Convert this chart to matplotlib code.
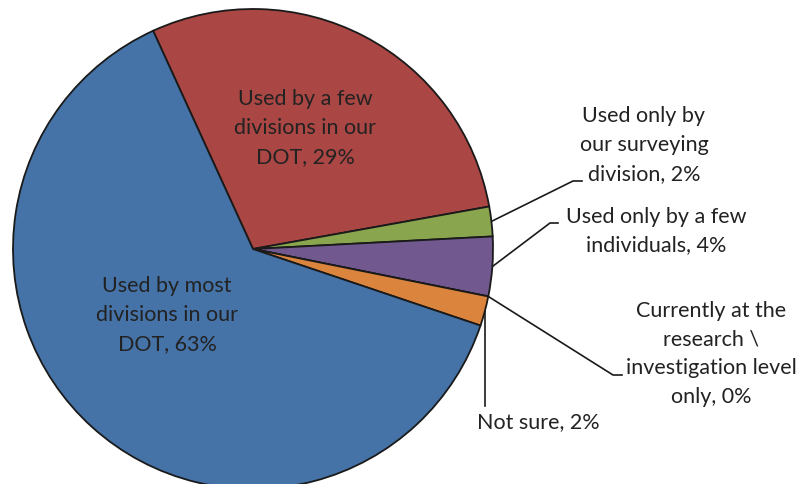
import numpy as np
import matplotlib
matplotlib.use("Agg")
import matplotlib.pyplot as plt

W, H = 800, 484

labels = [
    "Used by a few\ndivisions in our\nDOT, 29%",
    "Used only by\nour surveying\ndivision, 2%",
    "Used only by a few\nindividuals, 4%",
    "Currently at the\nresearch \\\ninvestigation level\nonly, 0%",
    "Not sure, 2%",
    "Used by most\ndivisions in our\nDOT, 63%",
]
values = [29, 2, 4, 0, 2, 63]
colors = ["#AA4643", "#89A54E", "#71588F", "#DB843D", "#DB843D", "#4573A7"]

plt.rcParams["font.family"] = ["Lato", "DejaVu Sans"]
TEXT_COLOR = "#222222"
FS = 15.5
LS = 1.55

fig = plt.figure(figsize=(W / 100, H / 100), dpi=100)
ax = fig.add_axes([0, 0, 1, 1])

cx, cy, r = 253, H - 249, 240
wedges, _ = ax.pie(values, colors=colors, startangle=114.6, counterclock=False,
                   center=(cx, cy), radius=r, frame=True,
                   wedgeprops=dict(edgecolor="#1a1a1a", linewidth=1.3))
ax.set_xlim(0, W)
ax.set_ylim(0, H)
ax.set_aspect("equal")
ax.axis("off")


def edge_point(w, frac=0.5):
    ang = np.deg2rad(w.theta1 + (w.theta2 - w.theta1) * frac)
    return cx + r * np.cos(ang), cy + r * np.sin(ang)


def leader(w, elbow, end, frac=0.5):
    x0, y0 = edge_point(w, frac)
    ax.plot([x0, elbow[0], end[0]], [y0, H - elbow[1], H - end[1]],
            color="#1a1a1a", lw=1.2, zorder=0.5, solid_joinstyle="miter")


# labels drawn inside the two big slices
ax.text(305, H - 128, labels[0], ha="center", va="center", fontsize=FS,
        color=TEXT_COLOR, linespacing=LS)
ax.text(167, H - 315, labels[5], ha="center", va="center", fontsize=FS,
        color=TEXT_COLOR, linespacing=LS)

# outside labels with leader lines
leader(wedges[1], (573, 181), (582, 181))
ax.text(644, H - 145, labels[1], ha="center", va="center", fontsize=FS,
        color=TEXT_COLOR, linespacing=LS)

leader(wedges[2], (550, 223), (558, 223))
ax.text(656, H - 231, labels[2], ha="center", va="center", fontsize=FS,
        color=TEXT_COLOR, linespacing=LS)

leader(wedges[3], (613, 375), (622, 375), frac=0.0)
ax.text(711, H - 354, labels[3], ha="center", va="center", fontsize=FS,
        color=TEXT_COLOR, linespacing=LS)

x0, y0 = edge_point(wedges[4])
ax.plot([x0, x0], [y0, H - 406], color="#1a1a1a", lw=1.2, zorder=0.5)
ax.text(538, H - 422, labels[4], ha="center", va="center", fontsize=FS,
        color=TEXT_COLOR)

fig.savefig("out.png", dpi=100)
